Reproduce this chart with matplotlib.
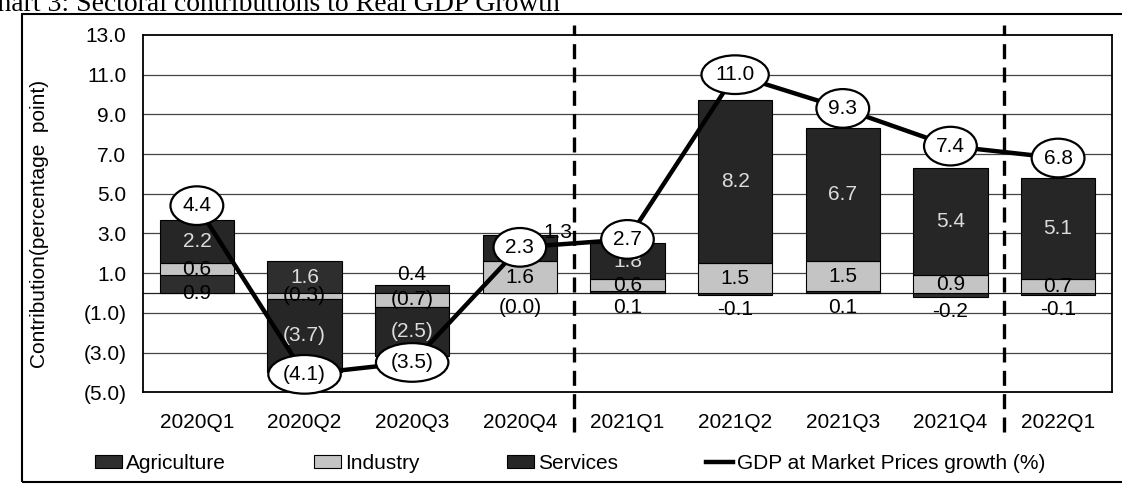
import numpy as np
import matplotlib.pyplot as plt
from matplotlib.patches import Rectangle

plt.rcParams['font.family'] = ['Liberation Sans', 'DejaVu Sans']

# Data (percentage point contributions)
quarters = ['2020Q1', '2020Q2', '2020Q3', '2020Q4', '2021Q1',
            '2021Q2', '2021Q3', '2021Q4', '2022Q1']
agriculture = [0.9, 1.6, 0.4, -0.02, 0.1, -0.1, 0.1, -0.2, -0.1]
industry = [0.6, -0.3, -0.7, 1.6, 0.6, 1.5, 1.5, 0.9, 0.7]
services = [2.2, -3.7, -2.5, 1.3, 1.8, 8.2, 6.7, 5.4, 5.1]
gdp_growth = [4.4, -4.1, -3.5, 2.3, 2.7, 11.0, 9.3, 7.4, 6.8]
y_ticks = [-5.0, -3.0, -1.0, 1.0, 3.0, 5.0, 7.0, 9.0, 11.0, 13.0]

# where each bar label goes: 'c' centre of segment, 'base' on the zero line,
# 'above' / 'below' the stack
agri_place = ['base', 'c', 'above', 'below', 'below', 'below', 'below', 'below', 'below']
ind_place = ['c'] * 9
serv_place = ['c', 'c', 'c', 'above-right', 'c', 'c', 'c', 'c', 'c']


def fmt(v, q):
    # 2020 figures use accounting brackets, later ones a minus sign
    if v < 0 and q.startswith('2020'):
        return '(%.1f)' % abs(v)
    return '%.1f' % v


def tick_fmt(v):
    return '(%.1f)' % abs(v) if v < 0 else '%.1f' % v


fig = plt.figure(figsize=(11.22, 4.86), dpi=100)
ax = fig.add_axes([0.1275, 0.193, 0.8635, 0.735])

x = np.arange(len(quarters))
width = 0.69
FS = 15

series = [
    ('Agriculture', agriculture, '#2e2e2e', '#dcdcdc', agri_place),
    ('Industry', industry, '#c4c4c4', 'black', ind_place),
    ('Services', services, '#262626', '#dcdcdc', serv_place),
]

pos_base = np.zeros(len(x))
neg_base = np.zeros(len(x))
segments = []
for name, vals, color, tcol, place in series:
    vals = np.array(vals)
    bottoms = np.where(vals >= 0, pos_base, neg_base)
    ax.bar(x, vals, width, bottom=bottoms, color=color, edgecolor='black',
           linewidth=0.8, label=name, zorder=2)
    segments.append((vals, bottoms, tcol, place))
    pos_base = pos_base + np.where(vals >= 0, vals, 0)
    neg_base = neg_base + np.where(vals < 0, vals, 0)

# bar value labels
for vals, bottoms, tcol, place in segments:
    for i, v in enumerate(vals):
        txt = fmt(v, quarters[i])
        p = place[i]
        if p == 'c':
            ax.text(x[i], bottoms[i] + v / 2, txt, ha='center', va='center',
                    fontsize=FS, color=tcol, zorder=3)
        elif p == 'base':
            ax.text(x[i], -0.05, txt, ha='center', va='center',
                    fontsize=FS, color='black', zorder=3)
        elif p == 'above':
            ax.text(x[i], pos_base[i] + 0.05, txt, ha='center', va='bottom',
                    fontsize=FS, color='black', zorder=3)
        elif p == 'above-right':
            ax.text(x[i] + 0.35, pos_base[i] - 0.35, txt, ha='center', va='bottom',
                    fontsize=FS, color='black', zorder=3)
        else:
            ax.text(x[i], min(neg_base[i], 0) - 0.25, txt, ha='center', va='top',
                    fontsize=FS, color='black', zorder=3)

# GDP growth line with ellipse labels
ax.plot(x, gdp_growth, color='black', linewidth=3.2, zorder=4,
        label='GDP at Market Prices growth (%)')
for i, v in enumerate(gdp_growth):
    ax.text(x[i], v, fmt(v, quarters[i]), ha='center', va='center', fontsize=FS,
            zorder=5, bbox=dict(boxstyle='ellipse,pad=0.2', fc='white',
                                ec='black', lw=1.6))

# year separators
for xs in (3.5, 7.5):
    ax.plot([xs, xs], [-7.0, 13.5], color='black', linewidth=2.4,
            linestyle=(0, (4.5, 2.5)), clip_on=False, zorder=6)

# grid
for t in y_ticks[1:-1]:
    ax.axhline(t, color='#444444', linewidth=0.9, zorder=1)
ax.axhline(0, color='#222222', linewidth=0.9, zorder=1)

ax.set_xlim(-0.5, len(x) - 0.5)
ax.set_ylim(-5, 13)
ax.set_yticks(y_ticks)
ax.set_yticklabels([tick_fmt(t) for t in y_ticks])
ax.set_xticks(x)
ax.set_xticklabels(quarters)
ax.tick_params(axis='both', length=0, labelsize=FS)
ax.tick_params(axis='y', pad=12)
ax.tick_params(axis='x', pad=15)
for s in ax.spines.values():
    s.set_linewidth(1.3)

fig.text(40 / 1122, 1 - 224 / 486, 'Contribution(percentage  point)',
         rotation=90, ha='center', va='center', fontsize=FS)

# cut-off title and outer frame like the scanned page
fig.text(560 / 1122, 1 - 11 / 486, 'Chart 3: Sectoral contributions to Real GDP Growth',
         ha='right', va='baseline', fontsize=20, family='Liberation Serif')
fig.patches.append(Rectangle((22 / 1122, 4 / 486), 1.2, 1 - 18 / 486,
                             transform=fig.transFigure, fill=False,
                             edgecolor='black', linewidth=1.5))

handles, labels = ax.get_legend_handles_labels()
order = [1, 2, 3, 0]
fig.legend([handles[k] for k in order], [labels[k] for k in order],
           loc='center left', bbox_to_anchor=(95 / 1122, 1 - 463 / 486),
           ncol=4, frameon=False, fontsize=FS, handlelength=1.3,
           handleheight=0.6, handletextpad=0.2, columnspacing=4.2,
           borderaxespad=0, borderpad=0)

fig.savefig('out.png', dpi=100)
